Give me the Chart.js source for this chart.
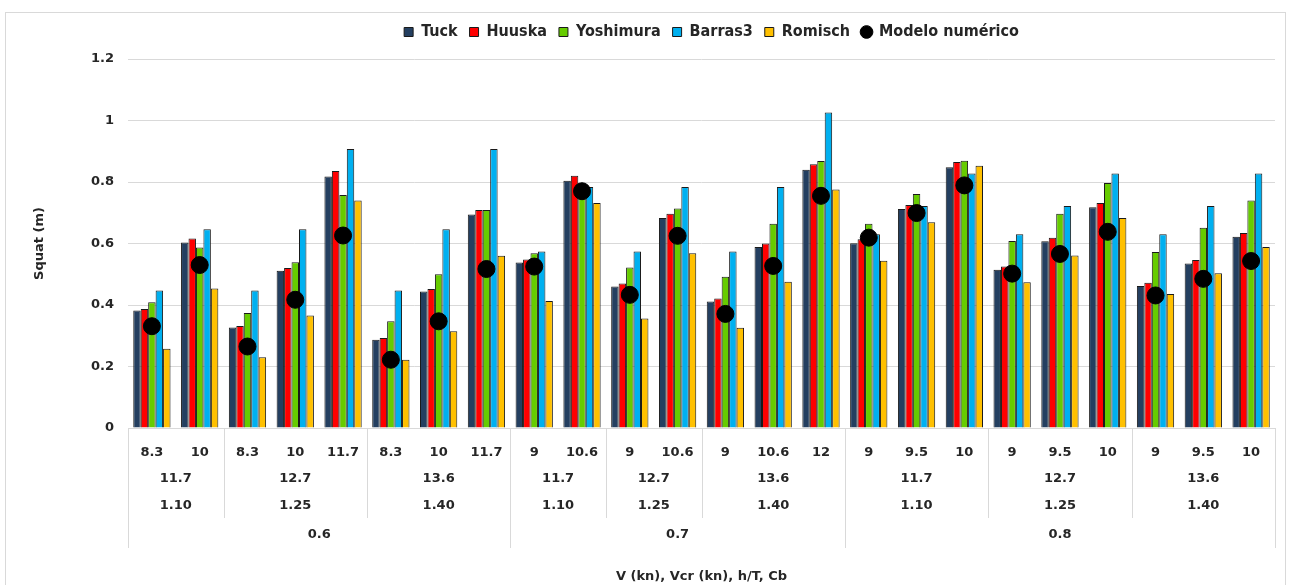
<!DOCTYPE html>
<html>
<head>
<meta charset="utf-8">
<script src="https://cdn.jsdelivr.net/npm/chart.js@4.4.0/dist/chart.umd.min.js"></script>
<style>
  html, body { margin: 0; padding: 0; background: #fff; }
  #wrap { width: 1293px; height: 585px; }
</style>
</head>
<body>
<div id="wrap"><canvas id="squatChart" width="1293" height="585"></canvas></div>
<script>
// Axis labels, level by level (V, Vcr, h/T, Cb)
const vLabels = ['8.3','10','8.3','10','11.7','8.3','10','11.7','9','10.6','9','10.6','9','10.6','12','9','9.5','10','9','9.5','10','9','9.5','10'];
const vcrLabels = ['11.7','12.7','13.6','11.7','12.7','13.6','11.7','12.7','13.6'];
const htLabels = ['1.10','1.25','1.40','1.10','1.25','1.40','1.10','1.25','1.40'];
const vcrCounts = [2, 3, 3, 2, 2, 3, 3, 3, 3];
const cbLabels = ['0.6', '0.7', '0.8'];
const cbCounts = [8, 7, 9];

// Squat values (m)
const tuck = [0.382,0.603,0.327,0.511,0.818,0.287,0.444,0.694,0.538,0.804,0.460,0.683,0.411,0.589,0.840,0.601,0.712,0.848,0.515,0.607,0.718,0.462,0.535,0.622];
const huuska = [0.387,0.616,0.332,0.520,0.836,0.293,0.452,0.709,0.548,0.820,0.470,0.697,0.421,0.600,0.858,0.614,0.725,0.865,0.525,0.619,0.732,0.472,0.546,0.634];
const yoshimura = [0.409,0.587,0.374,0.539,0.758,0.347,0.500,0.709,0.568,0.780,0.522,0.714,0.492,0.664,0.868,0.664,0.761,0.869,0.608,0.697,0.797,0.572,0.651,0.740];
const barras3 = [0.447,0.646,0.447,0.646,0.907,0.447,0.646,0.907,0.574,0.784,0.574,0.784,0.574,0.784,1.026,0.630,0.722,0.828,0.630,0.722,0.828,0.630,0.722,0.828];
const romisch = [0.258,0.454,0.230,0.366,0.740,0.222,0.315,0.560,0.413,0.732,0.356,0.568,0.326,0.476,0.776,0.544,0.669,0.853,0.474,0.561,0.683,0.436,0.503,0.589];
const modelo = [0.331,0.530,0.265,0.417,0.626,0.222,0.347,0.517,0.525,0.770,0.433,0.625,0.371,0.527,0.755,0.619,0.699,0.789,0.502,0.566,0.638,0.431,0.485,0.543];

const labelFont = "bold 13px 'DejaVu Sans', sans-serif";
const textColor = '#262626';
const lineColor = '#d9d9d9';

// Extra room between the legend and the plot, and nudge legend to the right
const legendMargin = {
  id: 'legendMargin',
  beforeInit(chart) {
    const fit = chart.legend.fit;
    chart.legend.fit = function () {
      fit.bind(chart.legend)();
      this.height += 9;
    };
  },
  afterUpdate(chart) {
    chart.legend.left += 60;
    chart.legend.right += 60;
  }
};

// Draws the outer frame and the grouped category labels under the x axis
const groupLabels = {
  id: 'groupLabels',
  beforeDraw(chart) {
    const ctx = chart.ctx;
    ctx.save();
    ctx.strokeStyle = lineColor;
    ctx.lineWidth = 1;
    ctx.strokeRect(5.5, 12.5, 1280, 600);
    ctx.restore();
  },
  afterDraw(chart) {
    const ctx = chart.ctx;
    const x = chart.scales.x;
    const half = (x.getPixelForValue(1) - x.getPixelForValue(0)) / 2;
    const top = chart.chartArea.bottom;

    ctx.save();
    ctx.font = labelFont;
    ctx.fillStyle = textColor;
    ctx.textAlign = 'center';
    ctx.textBaseline = 'middle';

    vLabels.forEach((lab, i) => ctx.fillText(lab, x.getPixelForValue(i), 453));

    function vline(px, y2) {
      ctx.beginPath();
      ctx.moveTo(Math.round(px) + 0.5, top);
      ctx.lineTo(Math.round(px) + 0.5, y2);
      ctx.stroke();
    }
    ctx.strokeStyle = lineColor;
    ctx.lineWidth = 1;

    let start = 0;
    vcrCounts.forEach((n, g) => {
      const left = x.getPixelForValue(start) - half;
      const right = x.getPixelForValue(start + n - 1) + half;
      const mid = (left + right) / 2;
      ctx.fillText(vcrLabels[g], mid, 479);
      ctx.fillText(htLabels[g], mid, 506);
      if (start > 0) vline(left, 518);
      start += n;
    });

    start = 0;
    cbCounts.forEach((n, g) => {
      const left = x.getPixelForValue(start) - half;
      const right = x.getPixelForValue(start + n - 1) + half;
      ctx.fillText(cbLabels[g], (left + right) / 2, 535);
      vline(left, 548);
      if (g === cbCounts.length - 1) vline(right, 548);
      start += n;
    });

    ctx.fillText('V (kn), Vcr (kn), h/T, Cb', (chart.chartArea.left + chart.chartArea.right) / 2, 577);
    ctx.restore();
  }
};

function barSet(label, data, color) {
  return {
    type: 'bar',
    label: label,
    data: data,
    backgroundColor: color,
    borderColor: '#1a1a1a',
    borderWidth: 1,
    pointStyle: 'rect',
    order: 1
  };
}

const ctx = document.getElementById('squatChart').getContext('2d');
new Chart(ctx, {
  data: {
    labels: vLabels,
    datasets: [
      barSet('Tuck', tuck, '#243F60'),
      barSet('Huuska', huuska, '#FF0000'),
      barSet('Yoshimura', yoshimura, '#66CC00'),
      barSet('Barras3', barras3, '#00B0F0'),
      barSet('Romisch', romisch, '#FFC000'),
      {
        type: 'line',
        label: 'Modelo numérico',
        data: modelo,
        showLine: false,
        pointStyle: 'circle',
        pointRadius: 8.5,
        pointBackgroundColor: '#000',
        pointBorderColor: '#000',
        backgroundColor: '#000',
        borderColor: '#000',
        order: 0
      }
    ]
  },
  options: {
    responsive: false,
    animation: false,
    categoryPercentage: 0.78,
    barPercentage: 1.0,
    layout: { padding: { left: 28, right: 18, top: 12, bottom: 0 } },
    plugins: {
      tooltip: { enabled: false },
      legend: {
        position: 'top',
        labels: {
          usePointStyle: true,
          boxWidth: 9,
          boxHeight: 9,
          padding: 12,
          color: textColor,
          font: { family: "'Liberation Sans Narrow', 'DejaVu Sans Condensed', sans-serif", size: 16, weight: 'bold' },
          sort: (a, b) => a.datasetIndex - b.datasetIndex
        }
      }
    },
    scales: {
      x: {
        grid: { display: false },
        border: { display: true, color: lineColor },
        ticks: { display: false },
        afterFit: (scale) => { scale.height = 157; }
      },
      y: {
        min: 0,
        max: 1.2,
        ticks: {
          stepSize: 0.2,
          color: textColor,
          font: { family: 'DejaVu Sans', size: 13, weight: 'bold' },
          padding: 14,
          callback: (v) => String(Math.round(v * 10) / 10)
        },
        grid: { color: lineColor, lineWidth: 1, drawTicks: false },
        border: { display: false },
        title: { display: true, text: 'Squat (m)', color: textColor, font: { family: 'DejaVu Sans', size: 13, weight: 'bold' } },
        afterFit: (scale) => { scale.width = 100; }
      }
    }
  },
  plugins: [legendMargin, groupLabels]
});
</script>
</body>
</html>
